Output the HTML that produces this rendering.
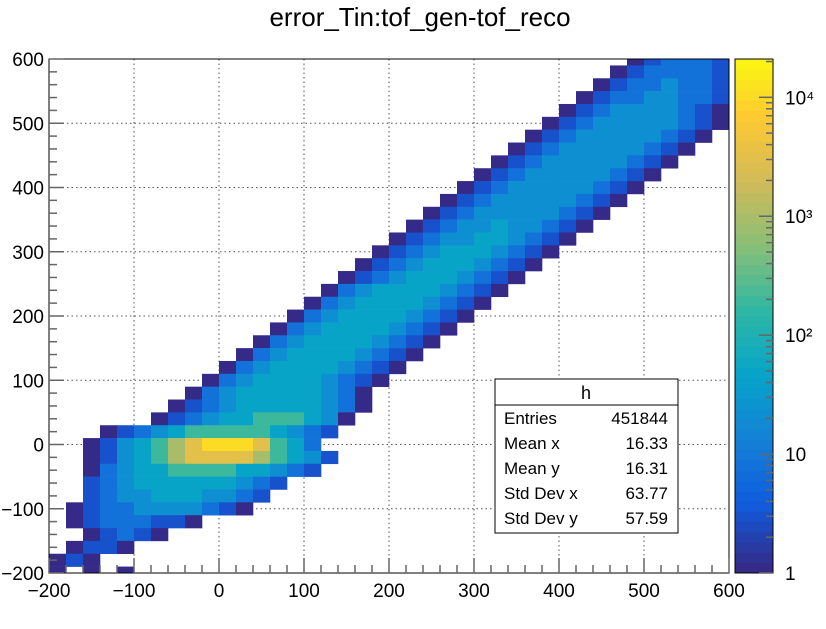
<!DOCTYPE html>
<html><head><meta charset="utf-8"><style>
html,body{margin:0;padding:0;background:#fff;}
svg{display:block;font-family:"Liberation Sans",Arial,sans-serif;}
</style></head><body>
<svg id="chart" width="826" height="629" viewBox="0 0 826 629"></svg>
<script>
// bin layout: rows from top (y=610) downward, each 20 units; cols from x=-200, each 20 units
const rowStarts = [34,33,32,31,30,29,28,27,26,25,24,23,22,21,20,19,18,17,16,15,14,13,12,11,10,9,8,7,6,3,2,2,2,2,2,1,1,2,1,0,0];
const rowLevels = [
"123332",
"1233332","12334332","1233443321","1234444321","12344444321","12344444321","12344444321",
"12344444321","12344444321","12344444321","12344444321","12344444321","12344544321",
"12344554321","12345554321","12345554321","12345554321","13455554321","13455554321",
"13455554321","13455554321","13455554321","13455554321","13455554321","13455554321",
"13455555431","123455555431","123455666541","12345666665432","12456789998653",
"124567888876542","13455666655432","234555555432","23445554432","12334444321",
"12333221","12321","1221","121","10101"];
const levelCounts = [0,1,3,8,20,50,200,1000,3000,10000];
const xTicks = [-200,-100,0,100,200,300,400,500,600];
const yTicks = [-200,-100,0,100,200,300,400,500,600];
const zTicks = [1,10,100,1000,10000];
const zLabels = ["1","10","10²","10³","10⁴"];
const statNames = ["Entries","Mean x","Mean y","Std Dev x","Std Dev y"];
const statValues = ["451844","16.33","16.31","63.77","57.59"];

const NS="http://www.w3.org/2000/svg";
const svg=document.getElementById('chart');
const L=49,R=729,T=59,B=573, zMax=21000, binW=20, yTop=610;
const X=v=>L+(v+200)/800*(R-L);
const Y=v=>B-(v+200)/800*(B-T);
const Z=c=>B-Math.log10(c)/Math.log10(zMax)*(B-T);
function mk(tag,attrs,parent){const e=document.createElementNS(NS,tag);for(const k in attrs)e.setAttribute(k,attrs[k]);(parent||svg).appendChild(e);return e;}
const stops=[[0,.2082,.1664,.5293],[.125,.0592,.3599,.8684],[.25,.0780,.5041,.8385],[.375,.0232,.6419,.7914],[.5,.1802,.7178,.6425],[.625,.5301,.7492,.4662],[.75,.8186,.7328,.3499],[.875,.9956,.7862,.1968],[1,.9764,.9832,.0539]];
function col(t){t=Math.max(0,Math.min(1,t));t=Math.floor(t*50)/50;for(let i=1;i<stops.length;i++){if(t<=stops[i][0]){const a=stops[i-1],b=stops[i],f=(t-a[0])/(b[0]-a[0]);return `rgb(${[1,2,3].map(j=>Math.round(255*(a[j]+f*(b[j]-a[j])))).join(',')})`;}}return 'rgb(249,251,14)';}

const defs=mk('defs',{});
const cp=mk('clipPath',{id:'plotclip'},defs);
mk('rect',{x:L,y:T,width:R-L,height:B-T},cp);

const title=mk('text',{x:420,y:26,'text-anchor':'middle','font-size':26});
title.textContent='error_Tin:tof_gen-tof_reco';



// grid
const grid=mk('g',{stroke:'#555','stroke-dasharray':'1.5,3','stroke-width':1});


xTicks.slice(1,-1).forEach(v=>mk('line',{x1:X(v),x2:X(v),y1:T,y2:B},grid));
yTicks.slice(1,-1).forEach(v=>mk('line',{x1:L,x2:R,y1:Y(v),y2:Y(v)},grid));

// cells
const cells=mk('g',{'clip-path':'url(#plotclip)'});


rowLevels.forEach((s,r)=>{
  const y1=yTop-binW*r, y0=y1-binW;
  for(let i=0;i<s.length;i++){
    const lv=+s[i]; const cnt=levelCounts[lv]; if(!cnt)continue;
    const x0=-200+binW*(rowStarts[r]+i);
    const rc=mk('rect',{x:X(x0),y:Y(y1),width:X(x0+binW)-X(x0)+0.3,height:Y(y0)-Y(y1)+0.3,fill:col(Math.log10(cnt)/Math.log10(zMax))},cells);
    
    
  }
});

// frame
const fr=mk('rect',{x:L,y:T,width:R-L,height:B-T,fill:'none',stroke:'#000','stroke-width':1});



// ticks
const tk=mk('g',{stroke:'#666','stroke-width':1.5});


for(let v=-200;v<=600;v+=20){const maj=v%100===0;const len=maj?15:8;
  mk('line',{x1:X(v),x2:X(v),y1:B,y2:B-len},tk);
  mk('line',{x1:L,x2:L+len,y1:Y(v),y2:Y(v)},tk);}
const xa=mk('g',{'font-size':19,'text-anchor':'middle'});


xTicks.forEach(v=>{const t=mk('text',{x:X(v),y:B+24},xa);t.textContent=v<0?'\u2212'+(-v):v;});
const ya=mk('g',{'font-size':19,'text-anchor':'end'});


yTicks.forEach(v=>{const t=mk('text',{x:L-5,y:Y(v)+7},ya);t.textContent=v<0?'\u2212'+(-v):v;});

// color bar
const cb=mk('g',{});


for(let k=0;k<50;k++){const t0=k/50,t1=(k+1)/50;
  mk('rect',{x:735,y:B-t1*(B-T),width:38,height:(B-T)/50+0.4,fill:col(t0+0.001)},cb);}
mk('rect',{x:735,y:T,width:38,height:B-T,fill:'none',stroke:'#000','stroke-width':1},cb);
for(let d=0;d<=4;d++){for(let m=1;m<10;m++){const c=m*Math.pow(10,d);if(c>zMax)break;const y=Z(c);
  mk('line',{x1:773,x2:773-(m===1?14:7),y1:y,y2:y,stroke:'#666','stroke-width':1.5},cb);}}
zTicks.forEach((v,i)=>{const t=mk('text',{x:785,y:Z(v)+7,'font-size':19},cb);t.textContent=zLabels[i];});

// stats box
const sb=mk('g',{});


mk('rect',{x:495,y:379,width:183,height:154,fill:'#fff',stroke:'#000','stroke-width':1},sb);
mk('line',{x1:495,x2:678,y1:405,y2:405,stroke:'#000'},sb);
const ht=mk('text',{x:586,y:399,'font-size':18,'text-anchor':'middle'},sb);ht.textContent='h';
statNames.forEach((n,i)=>{const y=424+i*25;
  const a=mk('text',{x:504,y:y,'font-size':17},sb);a.textContent=n;
  const b=mk('text',{x:668,y:y,'font-size':17,'text-anchor':'end'},sb);b.textContent=statValues[i];});
</script>
</body></html>
